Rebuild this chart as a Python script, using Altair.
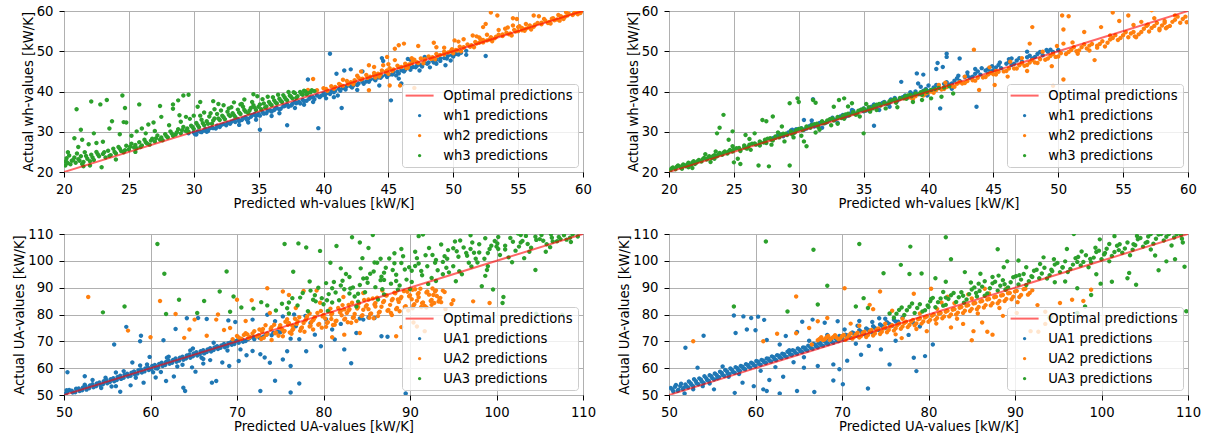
import altair as alt
import pandas as pd

# ---------------- data ----------------
WH_TICKS_X = [20, 25, 30, 35, 40, 45, 50, 55, 60]
WH_TICKS_Y = [20, 30, 40, 50, 60]
UA_TICKS = [50, 60, 70, 80, 90, 100, 110]
OPT_WH = [20, 60]
OPT_UA = [50, 110]
WH_LABELS = ["wh1 predictions", "wh2 predictions", "wh3 predictions"]
UA_LABELS = ["UA1 predictions", "UA2 predictions", "UA3 predictions"]

TL_WH1 = [(29.6,29.6),(30.0,29.8),(30.3,30.1),(30.6,29.9),(30.9,30.7),(31.2,30.8),(31.5,30.9),(31.8,31.5),(32.0,31.2),(32.3,31.9),(32.6,32.2),(32.9,32.5),(33.2,32.4),(33.4,33.1),(33.7,32.9),(34.0,33.6),(34.2,33.2),(34.5,34.1),(34.8,33.9),(35.0,34.4),(35.3,34.9),(35.6,34.6),(35.9,35.3),(36.2,35.4),(36.4,35.9),(36.7,35.7),(37.0,36.4),(37.3,36.2),(37.6,36.9),(37.9,37.1),(38.1,37.4),(38.4,37.9),(38.7,37.7),(39.0,38.5),(39.2,38.6),(39.5,39.0),(39.8,38.9),(40.0,39.5),(40.3,39.6),(40.6,40.0),(40.9,40.2),(41.2,40.6),(41.5,40.9),(41.8,41.3),(42.1,41.3),(42.4,41.9),(42.7,42.0),(43.0,42.4),(43.3,42.5),(43.6,43.0),(43.9,43.1),(44.2,43.5),(44.5,43.8),(44.8,44.1),(45.1,44.2),(45.4,44.8),(45.7,44.9),(46.0,45.3),(46.3,45.4),(46.6,46.0),(46.9,46.1),(47.2,46.4),(47.5,46.6),(47.8,47.1),(48.1,47.2),(48.4,47.7),(48.7,47.9),(49.0,48.2),(49.3,48.3),(49.6,48.9),(49.9,49.0),(50.2,49.3),(50.6,49.6),(51.0,50.1),
          (35.1,30.5),(37.2,31.6),(39.6,30.9),(41.4,35.9),(45.2,37.8),(40.5,49.4),(38.8,43.0),(41.0,44.4),(41.6,45.2),(42.1,45.5),(43.0,45.0),(44.5,48.3),(44.6,47.6),(44.3,41.5),(46.5,48.1),(46.7,47.9),(47.8,48.6),(48.7,46.9),(49.4,46.5),(52.5,48.8),(41.1,39.0),(42.3,41.5),(43.5,42.8),(44.0,44.0),(45.6,44.0),(46.2,45.1),(47.4,45.2),(48.2,46.0),(49.8,47.7),(51.0,49.1),(33.5,31.7),(34.2,32.3),(36.0,33.9),(36.6,34.6),(37.8,35.9),(38.5,36.7),(39.2,37.4),(40.2,38.3),(34.8,33.0),(31.0,30.0),(30.2,29.3),(45.8,43.2),(46.0,42.0),(40.8,38.6),(42.6,40.4),
          (30.1,29.4),(30.5,30.0),(30.8,30.3),(31.1,30.2),(31.4,31.0),(31.7,30.8),(32.1,31.6),(32.5,31.6),(32.8,32.0),(33.1,32.8),(33.5,32.6),(33.8,33.3),(34.1,33.0),(34.4,33.7),(34.7,34.4),(35.1,34.0),(35.4,34.5),(35.7,35.2),(36.0,35.0),(36.3,35.8),(36.6,35.5),(36.9,36.3),(37.2,36.8),(37.5,36.5),(37.8,37.4),(38.2,37.0),(38.5,37.6),(38.9,38.2),(39.3,38.1),(39.7,38.6),(40.1,39.0),(40.5,39.4),(40.8,39.8),(41.3,40.2),(41.7,40.5),(42.2,41.0),(42.6,41.6),(43.1,41.9),(43.5,42.4),(44.0,42.8),(44.4,43.4),(44.9,43.6),(45.3,44.2),(45.8,44.5),(46.2,45.0),(46.7,45.4),(47.1,46.0),(47.6,46.2),(48.0,46.9),(48.5,47.2),(49.0,47.6),(49.5,48.2),(50.0,48.7),(50.4,49.2)]
TL_WH2 = [(39.5,40.3),(40.0,40.8),(40.3,40.2),(40.6,41.3),(40.9,41.1),(41.2,41.9),(41.5,41.4),(41.8,42.6),(42.1,42.3),(42.4,42.8),(42.7,43.4),(43.0,43.2),(43.3,44.1),(43.6,43.7),(43.9,44.6),(44.2,44.4),(44.5,45.2),(44.8,44.9),(45.1,45.8),(45.4,45.5),(45.7,46.4),(46.0,46.1),(46.3,46.9),(46.6,46.7),(46.9,47.6),(47.2,47.3),(47.5,48.2),(47.8,47.9),(48.1,48.7),(48.4,48.5),(48.7,49.3),(49.0,49.1),(49.3,49.9),(49.6,49.7),(49.9,50.5),(50.2,50.3),(50.5,51.1),(50.8,50.9),(51.1,51.7),(51.4,51.5),(51.7,52.3),(52.0,52.1),(52.3,52.8),(52.6,52.7),(52.9,53.5),(53.2,53.2),(53.5,54.1),(53.8,53.8),(54.1,54.6),(54.4,54.4),(54.7,55.3),(55.0,55.0),(55.3,55.8),(55.6,55.6),(55.9,56.4),(56.2,56.1),(56.5,57.0),(56.8,56.7),(57.1,57.6),(57.4,57.3),(57.7,58.2),(58.0,57.9),(58.3,58.7),(58.6,58.5),(58.9,59.3),(59.2,59.0),(59.5,59.6),(59.8,59.5),(59.9,60.0),(44.0,43.5),(45.0,44.4),(46.5,45.9),(47.7,47.0),(50.0,49.5),(53.0,52.5),(56.0,55.4),(58.2,57.6),
          (39.2,43.1),(38.8,40.4),(45.8,51.5),(46.2,51.9),(47.3,51.3),(45.5,50.6),(48.5,52.1),(48.7,51.0),(44.9,48.6),(45.5,47.8),(43.5,46.5),(43.9,46.1),(44.6,46.5),(47.0,40.9),(45.9,41.5),(45.1,41.5),(43.5,40.3),(42.6,43.9),(42.9,45.0),(52.3,56.0),(52.5,56.8),(52.9,59.6),(53.4,58.9),(54.6,58.2),(54.9,58.0),(56.2,58.9),(56.6,58.7),(54.6,56.4),(55.1,56.2),(55.6,56.8),(50.1,52.7),(50.4,52.4),(50.8,53.0),(51.5,53.9),(51.8,53.7),(52.0,53.4),(52.6,54.1),(53.5,55.3),(54.0,55.6),(54.2,55.9),(57.6,58.1),(58.1,59.0),(58.7,59.7),(59.4,60.0),(41.5,42.9),(46.8,48.3),(49.3,50.9),(45.0,46.8),
          (40.2,40.6),(40.8,40.7),(41.3,41.6),(41.9,41.8),(42.4,42.5),(42.9,43.0),(43.4,43.4),(43.9,44.0),(44.4,44.3),(44.9,45.2),(45.3,45.1),(45.8,46.0),(46.3,46.2),(46.8,47.0),(47.3,47.1),(47.8,48.0),(48.3,48.1),(48.8,48.9),(49.3,49.2),(49.8,50.0),(50.3,50.2),(50.8,51.0),(51.3,51.1),(51.8,51.9),(52.3,52.2),(52.8,52.9),(53.3,53.6),(53.8,54.2),(54.3,54.2),(54.8,54.9),(55.3,55.2),(55.8,55.9),(56.3,56.6),(56.8,57.1),(57.3,57.0),(57.8,57.7),(58.3,58.3),(58.8,58.9),(59.3,59.4),(59.7,59.9),(59.6,59.2),(58.5,58.0),(57.5,56.9),(55.5,55.1),(54.5,53.9),(51.6,51.0),(50.6,50.0),(48.6,48.0),(46.4,45.8),(44.3,43.7),(42.3,41.8),(47.0,47.9),(52.1,53.0),(55.0,56.0),(57.0,58.0)]
TL_WH3 = [(20.1,21.6),(20.2,23.4),(20.3,22.2),(20.4,24.1),(20.5,21.9),(20.6,22.8),(20.8,23.6),(20.9,22.3),(21.0,24.6),(21.2,22.8),(21.3,23.9),(21.5,22.5),(21.6,24.9),(21.8,23.3),(22.0,22.7),(22.1,24.3),(22.3,23.0),(22.5,25.0),(22.7,23.9),(22.9,21.2),(23.0,24.5),(23.2,23.6),(23.4,25.3),(23.6,24.2),(23.8,25.8),(24.0,24.6),(24.2,26.2),(24.4,25.2),(24.6,24.9),(24.8,26.5),(25.0,25.6),(25.2,27.0),(25.4,26.1),(25.6,25.9),(25.8,27.4),(26.0,26.6),(26.2,28.0),(26.4,27.1),(26.6,26.8),(26.8,28.3),(27.0,27.6),(27.2,29.1),(27.4,28.0),(27.6,27.9),(27.8,29.4),(28.0,28.6),(28.2,30.1),(28.4,29.0),(28.6,29.3),(28.8,30.6),(29.0,29.6),(29.2,31.2),(29.4,30.2),(29.6,30.0),(29.8,31.5),(30.0,30.7),(30.2,32.2),(30.4,31.1),(30.6,33.0),(30.8,31.6),(31.0,32.6),(31.2,33.8),(31.4,32.0),(31.6,33.3),(31.8,34.4),(32.0,32.9),(32.2,34.0),(32.4,33.1),(32.6,35.0),(32.8,33.9),(33.0,34.6),(33.2,33.7),(33.4,35.5),(33.6,34.4),(33.8,36.2),(34.0,35.0),(34.2,34.6),(34.4,35.9),(34.6,36.6),(34.8,35.4),(35.0,36.2),(35.2,35.6),(35.4,37.0),(35.6,36.3),(35.8,37.4),(36.0,36.6),(36.2,37.8),(36.4,37.0),(36.6,38.2),(36.8,37.4),(37.0,38.6),(37.2,37.8),(37.4,39.0),(37.6,38.3),(37.8,39.6),(38.0,38.8),(38.2,39.9),(38.4,39.2),(38.6,40.0),(38.8,39.6),(39.0,39.8),(39.3,40.1),
          (20.97,35.6),(22.1,37.5),(22.8,36.8),(23.3,37.9),(24.5,39.0),(24.7,35.9),(25.8,36.8),(23.7,32.6),(21.3,30.5),(20.8,28.4),(21.4,28.0),(22.3,29.6),(23.0,27.5),(24.6,32.4),(24.8,32.3),(23.5,30.8),(24.3,29.4),(25.2,29.0),(25.6,30.1),(26.0,30.8),(26.5,31.8),(26.9,32.3),(27.4,36.4),(27.5,33.7),(28.4,36.8),(28.8,37.8),(29.2,39.0),(29.6,39.2),(28.4,35.7),(28.9,34.1),(29.4,33.7),(30.3,36.2),(30.5,37.4),(31.5,37.6),(31.9,36.9),(32.3,36.6),(33.1,37.3),(33.6,36.8),(33.9,38.0),(34.6,39.3),(34.9,38.8),(21.9,26.9),(22.5,27.2),(26.3,29.6),(27.0,30.2),(28.1,31.6),(29.0,32.5),(30.0,34.0),(30.8,34.8),(31.6,35.6),(32.7,35.8),(35.7,38.7),(36.5,39.2),(37.3,39.9),(20.3,24.9),(21.1,26.2),(22.0,21.6),(21.5,21.4),(24.0,23.1),(25.5,25.0),(20.0,22.6),
          (20.2,22.5),(20.7,23.0),(21.1,23.2),(21.4,22.0),(21.7,24.0),(22.2,23.6),(22.6,24.4),(23.1,24.9),(23.5,24.0),(23.9,25.0),(24.3,25.8),(24.7,25.4),(25.1,26.3),(25.5,26.7),(25.9,26.2),(26.3,27.4),(26.7,27.8),(27.1,28.4),(27.5,28.6),(27.9,28.9),(28.3,29.6),(28.7,29.9),(29.1,30.4),(29.5,30.8),(29.9,31.2),(30.3,31.6),(30.7,32.1),(31.1,32.0),(31.5,32.8),(31.9,33.3),(32.3,33.6),(32.7,34.2),(33.1,34.1),(33.5,34.8),(33.9,35.4),(34.3,35.3),(34.7,36.0),(35.1,36.8),(35.5,36.0),(35.9,36.9),(36.3,37.3),(36.7,37.7),(37.1,38.1),(37.5,38.7),(37.9,38.4),(38.3,39.4),(38.7,39.3),(39.1,40.3),(38.5,40.2),(37.7,39.8),(36.9,39.1),(36.1,38.6),(35.3,38.1),(34.5,37.4),(33.7,36.9),(32.9,36.1),(32.1,35.3),(31.3,34.6),(30.5,34.0),(29.7,33.2)]

TR_WH1 = [(28.0,28.4),(28.4,29.1),(28.8,28.9),(29.2,29.8),(29.6,29.7),(30.0,30.6),(30.4,30.5),(30.8,31.4),(31.2,31.3),(31.6,32.2),(32.0,32.1),(32.4,33.0),(32.8,32.9),(33.2,33.8),(33.6,33.7),(34.0,34.6),(34.4,34.5),(34.8,35.4),(35.2,35.3),(35.6,36.2),(36.0,36.1),(36.4,37.0),(36.8,36.9),(37.2,37.8),(37.6,37.7),(38.0,38.6),(38.4,38.5),(38.8,39.4),(39.2,39.3),(39.6,40.2),(40.0,40.1),(40.4,41.0),(40.8,40.9),(41.2,41.9),(41.6,41.7),(42.0,42.7),(42.4,42.6),(42.8,43.6),(43.2,43.4),(43.6,44.4),(44.0,44.2),(44.4,45.2),(44.8,45.0),(45.2,46.0),(45.6,45.8),(46.0,46.9),(46.4,46.6),(46.8,47.7),(47.2,47.4),(47.6,48.5),(48.0,48.2),(48.4,49.3),(48.8,49.0),(49.2,49.9),(49.6,49.8),(50.0,50.3),
          (37.9,42.4),(39.1,44.5),(39.6,44.2),(39.2,42.0),(40.7,47.1),(41.1,46.1),(41.4,49.4),(41.4,48.6),(42.4,48.2),(40.6,45.6),(40.9,35.8),(43.7,36.2),(35.8,31.5),(30.4,32.9),(31.0,32.8),(31.1,38.1),(29.8,30.6),(29.5,30.5),(34.1,35.4),(35.0,35.1),(35.9,36.6),(36.5,37.2),(37.1,38.0),(44.6,44.5),(45.5,47.2),(46.4,48.2),(47.6,49.9),(49.1,50.3),(43.0,44.7),(44.1,45.8),(42.3,43.9),(38.6,39.8),(37.0,36.2),(36.2,35.4),(39.9,39.0),(41.8,40.7),(33.0,32.2),(31.8,31.0),
          (28.6,29.3),(29.4,30.3),(30.2,30.9),(31.0,31.9),(31.8,32.4),(32.6,33.5),(33.4,34.2),(34.2,35.2),(35.0,35.8),(35.8,36.8),(36.6,37.4),(37.4,38.4),(38.2,39.0),(39.0,40.0),(39.8,40.6),(40.6,41.6),(41.4,42.3),(42.2,43.3),(43.0,43.9),(43.8,45.0),(44.6,45.6),(45.4,46.6),(46.2,47.3),(47.0,48.3),(47.8,48.9),(48.6,49.8),(49.4,50.4),(30.6,30.8),(32.2,32.4),(33.8,34.0),(35.4,35.6),(37.0,37.2),(38.6,38.8),(40.2,40.4),(41.8,42.0),(43.4,43.7),(45.0,45.3),(46.6,46.9),(48.2,48.6),(39.4,41.2),(40.0,41.5),(43.6,45.6),(44.9,46.3),(46.2,48.0)]
TR_WH2 = [(38.2,38.3),(38.6,38.5),(39.0,38.8),(39.4,39.3),(39.8,39.5),(40.2,40.0),(40.6,40.4),(41.0,40.5),(41.4,41.1),(41.8,41.3),(42.2,41.9),(42.6,42.0),(43.0,42.6),(43.4,42.8),(43.8,43.4),(44.2,43.5),(44.6,44.2),(45.0,44.3),(45.4,44.9),(45.8,45.0),(46.2,45.7),(46.6,45.7),(47.0,46.5),(47.4,46.4),(47.8,47.2),(48.2,47.2),(48.6,48.0),(49.0,47.9),(49.4,48.8),(49.8,48.6),(50.2,49.5),(50.6,49.3),(51.0,50.3),(51.4,50.0),(51.8,51.0),(52.2,50.7),(52.6,51.8),(53.0,51.4),(53.4,52.5),(53.8,52.1),(54.2,53.3),(54.6,52.8),(55.0,54.0),(55.4,53.5),(55.8,54.8),(56.2,54.2),(56.6,55.6),(57.0,54.9),(57.4,56.3),(57.8,55.6),(58.2,57.1),(58.6,56.3),(59.0,57.8),(59.4,57.1),(59.8,58.6),(59.9,57.2),(45.2,45.1),(48.0,47.8),(51.2,51.0),(54.0,53.9),(56.9,56.6),(59.0,58.9),(53.0,50.9),(55.9,53.7),(58.4,56.0),
          (43.5,50.4),(47.8,51.9),(48.0,56.0),(50.3,58.9),(50.8,58.7),(50.4,55.4),(50.4,51.9),(52.0,54.8),(53.3,56.0),(54.2,59.6),(54.7,57.5),(55.4,58.9),(55.8,56.5),(57.2,60.2),(57.8,55.2),(58.2,57.5),(52.8,47.8),(52.4,50.2),(51.5,49.4),(50.4,43.0),(49.6,41.4),(43.9,40.4),(45.1,41.6),(42.8,43.7),(41.3,42.2),(40.8,41.6),(44.7,46.0),(46.3,47.4),(47.2,48.3),(48.8,49.9),(49.9,51.3),(51.1,52.2),(56.4,57.3),(57.4,58.2),(46.1,43.7),(47.6,45.1),(49.5,46.3),
          (38.8,38.1),(39.6,39.0),(40.4,39.7),(41.2,40.6),(42.0,41.2),(42.8,42.1),(43.6,42.7),(44.4,43.6),(45.2,44.2),(46.0,45.1),(46.8,45.7),(47.6,46.6),(48.4,47.1),(49.2,48.2),(50.0,48.7),(50.8,49.8),(51.6,50.2),(52.4,51.4),(53.2,51.8),(54.0,52.9),(54.8,53.3),(55.6,54.4),(56.4,54.8),(57.2,55.8),(58.0,56.4),(58.8,57.3),(59.6,58.0),(40.0,39.8),(42.4,42.3),(44.8,44.6),(47.2,47.0),(49.6,49.3),(52.0,51.7),(54.4,54.0),(56.8,56.3),(59.2,58.6),(53.6,51.2),(56.0,53.5),(58.3,55.7),(57.6,57.0),(55.2,54.7)]
TR_WH3 = [(20.1,20.4),(20.3,21.1),(20.5,20.7),(20.7,21.6),(20.9,21.2),(21.1,21.9),(21.3,21.4),(21.5,22.3),(21.7,21.8),(21.9,22.7),(22.1,22.3),(22.3,23.0),(22.5,22.6),(22.7,23.5),(22.9,23.1),(23.1,23.9),(23.3,23.5),(23.5,24.2),(23.7,23.9),(23.9,24.7),(24.1,24.3),(24.3,25.1),(24.5,24.6),(24.7,25.5),(24.9,25.1),(25.2,25.9),(25.5,25.5),(25.8,26.6),(26.1,26.2),(26.4,27.0),(26.7,26.8),(27.0,27.6),(27.3,27.3),(27.6,28.3),(27.9,28.0),(28.2,28.8),(28.5,28.6),(28.8,29.5),(29.1,29.2),(29.4,30.1),(29.7,29.8),(30.0,30.7),(30.3,30.4),(30.6,31.3),(30.9,31.0),(31.2,31.9),(31.5,31.6),(31.8,32.6),(32.1,32.3),(32.4,33.1),(32.7,32.8),(33.0,33.7),(33.3,33.4),(33.6,34.3),(33.9,34.1),(34.2,34.9),(34.5,34.6),(34.8,35.5),(35.1,35.3),(35.4,36.1),(35.7,35.8),(36.0,36.7),(36.3,36.5),(36.6,37.2),(36.9,37.0),(37.2,37.8),(37.5,37.6),(37.8,38.4),(38.1,38.3),(38.4,39.0),(38.7,38.8),(39.0,39.5),(39.3,39.4),(39.6,40.0),(39.9,39.9),(40.2,40.4),(40.5,40.6),(40.8,40.9),(41.2,41.0),(41.6,41.3),(21.0,20.8),(22.0,22.0),(26.0,25.8),(28.0,27.8),
          (24.2,34.2),(23.9,31.0),(23.7,29.6),(24.9,30.1),(25.0,22.4),(25.5,22.0),(26.9,21.6),(27.7,21.4),(29.3,21.6),(26.2,28.2),(27.2,32.9),(27.5,32.6),(28.0,33.8),(29.3,37.1),(29.9,38.3),(30.0,37.4),(30.4,27.6),(30.6,26.4),(31.1,37.9),(31.3,37.2),(31.6,30.5),(31.9,32.1),(32.7,36.2),(33.1,37.9),(33.5,38.3),(33.8,36.3),(34.1,37.1),(35.0,29.6),(34.4,34.2),(35.5,35.0),(36.7,35.8),(37.6,36.1),(38.3,38.2),(38.8,37.4),(39.5,37.9),(40.2,38.3),(41.0,38.7),(41.9,39.5),(28.4,29.8),(28.7,31.3),(28.9,27.6),(27.9,26.8),(27.0,26.6),(26.3,25.5),(25.9,29.2),(26.6,29.6),(24.6,28.0),(24.9,26.4),(23.6,25.1),(22.8,24.4),(25.3,23.3),(29.6,28.6),(30.2,29.0),(31.3,29.8),(32.5,31.6),(33.0,32.0),(34.7,33.8),(36.0,35.4),(35.2,36.9),(23.2,22.5),(21.8,21.0),
          (20.2,20.9),(20.6,21.3),(21.0,21.5),(21.4,21.9),(21.8,22.4),(22.2,22.7),(22.6,23.2),(23.0,23.5),(23.4,24.0),(23.8,24.3),(24.2,24.8),(24.6,25.1),(25.0,25.6),(25.4,26.0),(25.8,26.1),(26.2,26.8),(26.6,27.1),(27.0,27.3),(27.4,28.0),(27.8,28.4),(28.2,28.5),(28.6,29.2),(29.0,29.5),(29.4,29.7),(29.8,30.4),(30.2,30.8),(30.6,31.0),(31.0,31.6),(31.4,32.0),(31.8,32.2),(32.2,32.8),(32.6,33.3),(33.0,33.4),(33.4,34.0),(33.8,34.5),(34.2,34.6),(34.6,35.2),(35.0,35.7),(35.4,35.8),(35.8,36.4),(36.2,36.9),(36.6,37.0),(37.0,37.6),(37.4,38.1),(37.8,38.2),(38.2,38.8),(38.6,39.2),(39.0,39.3),(39.4,39.8),(39.8,40.3),(21.5,21.2),(23.5,23.3),(25.5,25.2),(27.5,27.2),(29.5,29.3),(31.5,31.2),(33.5,33.2),(35.5,35.2),(37.5,37.2),(39.5,39.2)]

BL_UA1 = [(50.2,50.6),(50.6,51.9),(51.0,50.9),(51.4,52.3),(51.8,51.5),(52.2,52.8),(52.6,52.0),(53.0,53.6),(53.4,52.9),(53.8,54.3),(54.2,53.6),(54.6,55.1),(55.0,54.4),(55.4,55.9),(55.8,55.1),(56.2,56.7),(56.6,56.0),(57.0,57.6),(57.4,56.9),(57.8,58.3),(58.2,57.6),(58.6,59.2),(59.0,58.4),(59.4,59.9),(59.8,59.3),(60.2,60.8),(60.6,60.0),(61.0,61.6),(61.4,60.8),(61.8,62.3),(62.2,61.6),(62.6,63.1),(63.0,62.4),(63.4,63.9),(63.8,63.1),(64.2,64.7),(64.6,63.9),(65.0,65.5),(65.4,64.7),(65.8,66.3),(66.2,65.5),(66.6,67.0),(67.0,66.2),(67.4,67.7),(67.8,67.1),(68.2,68.5),(68.6,67.8),(69.0,69.3),(69.4,68.7),(69.8,70.0),(70.2,69.5),(70.6,70.7),(71.0,70.1),(71.5,71.3),(72.0,70.8),(72.5,72.2),(73.0,71.6),(73.5,72.8),(74.0,72.3),(75.0,73.4),(52.4,53.8),(54.8,56.4),(56.9,58.9),(59.6,61.4),(62.1,64.3),(64.9,67.3),(67.3,69.5),(55.5,53.2),(58.3,56.4),(61.2,58.6),(63.7,61.3),(66.1,63.4),(68.9,66.6),
          (57.2,75.4),(55.8,68.8),(58.9,72.1),(58.8,70.0),(61.5,70.4),(62.9,74.6),(64.2,78.6),(65.5,78.7),(66.5,78.3),(69.0,77.8),(69.8,77.2),(71.8,78.1),(73.5,79.9),(74.4,77.5),(75.3,79.3),(76.6,80.0),(84.2,78.5),(85.2,78.9),(87.4,71.7),(89.5,50.6),(76.2,50.9),(77.2,54.3),(74.4,55.3),(72.7,51.5),(67.6,55.2),(67.1,54.6),(64.0,51.5),(63.8,52.7),(62.7,56.9),(61.8,55.2),(60.8,59.9),(59.2,54.6),(57.7,53.6),(56.5,51.2),(56.0,53.3),(54.3,52.6),(53.3,55.6),(50.4,58.5),(50.3,51.8),(70.4,67.0),(71.8,66.4),(72.7,65.2),(73.2,64.0),(73.8,62.0),(75.3,63.2),(75.8,66.3),(76.2,60.8),(77.2,70.8),(78.0,66.3),(79.7,68.2),(81.0,74.4),(83.2,61.8),(82.4,67.0),(81.3,70.7),(84.6,78.1),(83.8,73.1),(85.9,78.7),(86.7,71.9),(69.1,60.8),(68.3,62.1),(71.1,64.8),(70.2,62.7),(66.9,63.0),(66.1,61.7),(64.8,60.3),(65.2,58.7),(76.8,75.6),(78.5,76.8),(80.3,78.2),(82.0,76.5),(79.0,72.5),(77.9,79.5),(74.7,73.6),(76.2,71.0),(59.9,64.2),(57.9,62.1),(60.6,56.5),(52.4,57.0),
          (50.4,51.1),(50.9,51.6),(51.3,51.0),(51.7,52.4),(52.1,51.8),(52.5,53.2),(52.9,52.5),(53.3,54.0),(53.7,53.3),(54.1,54.7),(54.5,54.0),(54.9,55.6),(55.3,54.8),(55.7,56.3),(56.1,55.6),(56.5,57.2),(56.9,56.4),(57.3,57.9),(57.7,57.2),(58.1,58.8),(58.5,58.0),(58.9,59.5),(59.3,58.8),(59.7,60.3),(60.1,59.6),(60.5,61.2),(60.9,60.4),(61.3,62.0),(61.7,61.2),(62.1,62.8),(62.5,62.0),(62.9,63.6),(63.3,62.8),(63.7,64.3),(64.1,63.6),(64.5,65.1),(64.9,64.4),(65.3,65.9),(65.7,65.2),(66.1,66.7),(66.5,66.0),(66.9,67.4),(67.3,66.8),(67.7,68.2),(68.1,67.6),(68.5,69.0),(68.9,68.3),(69.3,69.7),(69.7,69.0),(70.1,70.5),(70.7,69.8),(71.3,70.9),(71.9,71.6),(72.6,71.3),(73.3,72.4),(74.2,73.1),(56.0,58.4),(58.8,61.0),(61.9,63.9),(64.6,66.6),(60.3,58.5),(63.1,60.6),(65.9,63.9)]
BL_UA2 = [(69.5,70.8),(70.0,72.0),(70.5,71.0),(71.0,73.0),(71.5,71.6),(72.0,73.8),(72.5,72.2),(73.0,74.6),(73.5,72.8),(74.0,75.3),(74.5,73.3),(75.0,76.0),(75.5,73.9),(76.0,76.8),(76.5,74.6),(77.0,77.5),(77.5,75.2),(78.0,78.3),(78.5,75.8),(79.0,79.0),(79.5,76.5),(80.0,79.8),(80.5,77.1),(81.0,80.5),(81.5,77.7),(82.0,81.3),(82.5,78.4),(83.0,82.0),(83.5,79.0),(84.0,82.8),(84.5,79.7),(85.0,83.5),(85.5,80.4),(86.0,84.3),(86.5,81.0),(87.0,85.0),(87.5,81.7),(88.0,85.8),(88.5,82.4),(89.0,86.5),(89.5,83.1),(90.0,87.2),(90.5,83.8),(91.0,88.0),(91.5,84.5),(92.0,88.6),(92.5,85.4),(93.0,89.0),(93.5,86.2),(94.0,88.4),(72.8,70.9),(75.2,74.5),(77.7,76.8),(80.2,78.5),(82.7,80.6),(85.2,82.0),(87.7,83.6),(90.2,85.7),(92.7,87.3),(74.0,70.5),(76.3,72.8),(78.8,74.4),(81.3,76.2),(83.8,77.6),(86.3,79.4),(88.8,81.2),(91.3,82.8),(73.3,76.0),(75.8,78.2),(78.4,80.4),(80.8,82.2),(83.3,84.4),(85.7,86.0),(88.2,88.1),(90.6,89.4),
          (52.8,86.5),(61.1,85.0),(57.4,74.0),(60.0,71.5),(63.9,71.3),(64.5,74.4),(65.1,78.1),(66.5,72.1),(67.6,78.1),(67.8,80.0),(62.9,80.2),(70.0,85.5),(71.7,85.3),(73.5,89.8),(75.3,88.6),(76.0,87.3),(77.7,88.8),(79.2,88.9),(94.8,83.9),(95.0,85.3),(97.3,84.9),(99.2,84.3),(94.1,82.0),(91.9,82.6),(90.4,77.0),(91.7,73.8),(90.8,75.5),(89.0,75.3),(88.4,71.9),(84.2,73.1),(81.0,71.5),(82.4,72.5),(69.2,75.0),(68.5,74.2),(71.0,77.6),(73.8,80.6),(76.8,82.4),(79.6,84.4),(82.3,86.5),(84.6,88.0),(86.8,88.9),(92.5,83.6),(93.6,84.6),
          (70.2,71.4),(70.8,72.4),(71.3,71.2),(71.8,72.9),(72.3,71.8),(72.9,73.6),(73.4,72.4),(73.9,74.6),(74.4,73.0),(74.9,75.1),(75.4,73.6),(75.9,76.2),(76.4,74.2),(76.9,76.5),(77.4,74.8),(77.9,77.8),(78.4,75.5),(78.9,78.4),(79.4,76.2),(79.9,79.3),(80.4,76.8),(80.9,79.9),(81.4,77.5),(81.9,80.8),(82.4,78.1),(82.9,81.5),(83.4,78.8),(83.9,82.2),(84.4,79.4),(84.9,83.0),(85.4,80.1),(85.9,83.7),(86.4,80.7),(86.9,84.6),(87.4,81.4),(87.9,85.3),(88.4,82.0),(88.9,86.0),(89.4,82.8),(89.9,86.8),(90.4,83.4),(90.9,87.6),(91.4,84.2),(91.9,88.2),(92.4,85.0),(92.9,88.6),(93.4,85.8),(77.2,79.0),(79.7,81.3),(82.2,83.5),(84.7,85.4),(87.2,87.2),(89.7,88.5),(75.3,71.9),(77.8,73.6),(80.3,75.4),(82.8,77.1),(85.3,78.8),(87.8,80.6),(90.3,82.3),(92.8,84.3),
          (71.2,72.6),(72.6,74.4),(73.1,71.3),(74.3,76.2),(74.8,72.1),(75.6,77.3),(76.1,73.3),(76.7,78.4),(77.3,73.9),(78.1,79.3),(78.6,77.2),(79.3,80.6),(79.8,75.1),(80.6,81.3),(81.1,76.1),(81.7,82.4),(82.1,79.7),(82.9,83.6),(83.2,76.9),(84.1,84.2),(84.6,81.8),(85.2,85.6),(85.8,78.6),(86.2,86.3),(86.7,82.9),(87.3,87.1),(87.9,79.8),(88.3,87.9),(88.7,84.7),(89.3,88.7),(89.8,81.5),(90.3,89.2),(90.8,85.1),(91.2,89.6),(91.7,83.2),(92.2,87.4),(92.6,89.7),(93.1,86.9),(93.8,88.9),(93.3,84.8),(80.9,78.3),(83.6,80.2),(86.0,83.0),(88.6,85.6),(91.0,86.4),(76.4,75.8),(78.8,77.9),(82.4,81.9)]
BL_UA3 = [(74.5,81.5),(75.2,84.0),(75.8,82.3),(76.4,86.1),(77.0,83.4),(77.6,88.0),(78.2,81.2),(78.8,85.5),(79.4,90.0),(80.0,83.8),(80.6,87.6),(81.2,92.1),(81.8,85.3),(82.4,89.4),(83.0,94.0),(83.6,86.7),(84.2,91.0),(84.8,88.3),(85.4,95.2),(86.0,90.2),(86.6,92.8),(87.2,97.4),(87.8,91.5),(88.4,94.8),(89.0,99.2),(89.6,93.0),(90.2,96.3),(90.8,101.0),(91.4,94.6),(92.0,98.0),(92.6,102.2),(93.2,96.5),(93.8,99.6),(94.4,104.0),(95.0,98.0),(95.6,101.5),(96.2,105.0),(96.8,99.3),(97.4,103.0),(98.0,106.2),(98.6,100.8),(99.2,104.4),(99.8,107.4),(100.4,102.2),(101.0,105.6),(101.6,108.5),(102.2,103.8),(102.8,106.8),(103.4,109.3),(104.0,104.9),(104.6,107.8),(105.2,109.6),(105.8,106.2),(106.4,108.6),(107.0,107.3),(107.8,109.5),(108.5,108.6),(79.0,87.2),(82.0,90.8),(85.0,93.5),(88.0,96.6),(91.0,99.0),(94.0,101.7),(97.0,104.4),(100.0,105.3),(103.0,107.4),(76.0,80.4),(80.5,81.3),(84.0,84.8),(87.0,87.5),(90.0,89.5),(93.0,92.5),(96.0,95.0),(99.0,98.0),(86.3,85.6),(83.0,87.8),(95.3,92.4),
          (54.5,80.8),(57.0,83.0),(60.8,106.3),(61.6,95.2),(61.8,80.2),(63.3,85.5),(65.4,80.6),(66.2,85.0),(68.0,88.6),(68.8,96.0),(69.6,86.7),(69.2,81.0),(70.5,82.6),(71.9,82.2),(72.8,84.6),(73.5,83.4),(75.5,106.3),(77.1,106.5),(78.0,105.0),(79.6,103.7),(81.5,105.5),(83.3,108.8),(84.2,106.8),(85.2,104.8),(85.7,109.6),(86.6,100.8),(88.2,102.8),(89.0,104.4),(91.0,109.2),(91.5,109.8),(95.2,107.2),(97.0,109.5),(100.1,106.5),(100.8,86.5),(100.7,84.3),(104.5,96.6),(98.7,94.4),(98.3,90.5),(99.6,89.3),(107.6,79.9),(104.6,80.3),(106.5,107.2),(108.8,109.8),(76.5,95.9),(80.8,99.3),(82.0,97.2),(84.5,101.0),(86.2,99.3),(87.0,95.6),(88.8,90.8),(92.5,93.6),(94.5,95.7),(101.8,99.5),(103.2,101.0),(97.6,100.8),(83.8,83.0),(81.0,84.5),(102.5,110.2),(105.7,103.4),
          (76.0,84.5),(77.3,86.3),(78.5,88.9),(79.8,86.1),(81.0,89.8),(82.2,92.6),(83.4,90.1),(84.6,93.4),(85.8,96.0),(87.0,92.9),(88.2,99.1),(89.4,96.8),(90.6,98.1),(91.8,102.1),(93.0,100.3),(94.2,97.4),(95.4,103.6),(96.6,101.9),(97.8,99.4),(99.0,102.9),(100.2,104.4),(101.4,101.3),(102.6,105.3),(103.8,103.4),(105.0,108.1),(106.2,105.1),(107.4,108.1),(108.6,107.0),(109.4,109.1),(88.6,89.2),(92.1,91.4),(95.7,96.1),(98.9,96.6),(86.8,89.4),(84.0,87.7),(80.4,85.3),
          (78.4,92.3),(79.1,84.9),(80.3,91.7),(81.4,88.2),(82.6,95.1),(83.1,89.7),(84.3,97.2),(85.1,91.8),(85.9,99.4),(86.7,94.1),(87.6,100.9),(88.4,92.5),(89.2,101.7),(89.9,97.6),(90.6,103.4),(91.3,96.2),(92.2,104.8),(92.9,99.3),(93.6,106.1),(94.3,100.8),(95.0,104.7),(95.8,107.6),(96.5,102.9),(97.2,106.8),(98.0,103.1),(98.7,108.4),(99.4,105.6),(100.2,108.9),(101.0,104.2),(101.9,107.1),(102.8,109.6),(103.6,106.3),(104.5,109.0),(105.4,107.5),(106.3,109.9),(107.2,108.9),(108.1,107.9),(90.2,92.1),(93.8,95.0),(97.1,97.9)]

BR_UA1 = [(50.2,52.6),(50.5,51.3),(50.8,53.7),(51.1,52.0),(51.4,54.2),(51.7,52.6),(52.0,53.3),(52.3,55.0),(52.6,53.8),(52.9,55.9),(53.2,54.4),(53.5,56.2),(53.8,55.0),(54.1,57.0),(54.4,55.6),(54.7,57.4),(55.0,56.3),(55.3,58.0),(55.6,56.9),(55.9,58.7),(56.2,57.5),(56.5,59.3),(56.8,58.0),(57.1,59.9),(57.4,58.6),(57.7,60.4),(58.0,59.3),(58.3,60.8),(58.6,59.9),(58.9,61.5),(59.2,60.6),(59.5,62.0),(59.8,61.1),(60.1,62.7),(60.4,61.6),(60.7,63.1),(61.0,62.2),(61.3,63.6),(61.6,62.8),(61.9,64.4),(62.2,63.3),(62.5,64.8),(62.8,64.0),(63.1,65.4),(63.4,64.5),(63.7,66.1),(64.0,65.1),(64.3,66.7),(64.6,65.7),(64.9,67.3),(65.2,66.3),(65.5,67.7),(65.8,66.9),(66.1,68.4),(66.4,67.5),(66.7,69.0),(67.0,68.1),(67.3,69.4),(67.6,68.6),(67.9,70.2),(68.2,69.2),(68.5,70.8),(68.8,69.8),(69.1,71.4),(69.4,70.3),(69.7,72.0),(70.0,71.0),(70.4,72.5),(70.8,71.6),(71.2,73.3),(71.6,72.3),(72.0,74.1),(72.4,73.0),(72.8,74.8),(73.2,73.8),(73.6,75.6),(74.0,74.5),(74.4,76.3),(74.8,75.3),(75.2,77.1),(75.6,76.2),(76.0,78.0),(76.5,77.3),(77.0,78.8),(75.0,78.4),(73.5,77.2),(71.8,75.8),(70.3,74.4),(68.3,72.4),(66.2,70.2),
          (57.5,79.6),(58.6,79.3),(59.5,78.7),(60.3,79.2),(61.0,78.0),(57.7,73.1),(59.0,74.4),(60.0,74.1),(61.3,70.5),(54.0,72.1),(51.9,67.6),(62.8,68.8),(65.4,77.3),(66.6,78.1),(68.0,76.9),(69.5,77.5),(63.5,72.0),(64.8,73.5),(63.9,66.7),(65.6,64.1),(64.4,62.2),(65.6,60.2),(67.2,60.8),(69.0,61.4),(69.7,59.6),(70.1,54.0),(69.0,55.4),(66.8,51.1),(64.8,51.5),(62.8,50.6),(61.3,51.5),(60.9,52.1),(59.8,53.3),(58.5,54.6),(57.6,50.8),(56.9,56.8),(55.6,56.2),(55.2,52.1),(53.9,53.3),(53.3,60.2),(51.8,50.6),(73.0,52.4),(78.6,58.9),(78.3,63.9),(79.6,64.5),(80.5,68.8),(75.5,61.4),(74.5,67.0),(73.1,68.3),(72.2,65.0),(71.6,69.1),(70.6,62.8),(76.2,70.2),(77.7,72.4),(79.0,75.5),(78.2,77.0),(74.3,78.6),(72.0,77.6),(56.2,60.6),(58.1,57.8),(60.6,59.0),(62.3,60.4),(54.7,54.3),(52.8,52.1),(63.2,56.8),(61.6,55.6),
          (50.4,52.0),(50.7,53.1),(51.0,51.6),(51.3,53.4),(51.6,52.2),(51.9,53.9),(52.2,52.8),(52.5,54.4),(52.8,53.3),(53.1,55.1),(53.4,54.0),(53.7,55.7),(54.0,54.5),(54.3,56.3),(54.6,55.3),(54.9,57.0),(55.2,55.8),(55.5,57.5),(55.8,56.6),(56.1,58.2),(56.4,57.1),(56.7,58.8),(57.0,57.8),(57.3,59.3),(57.6,58.3),(57.9,60.0),(58.2,59.0),(58.5,60.5),(58.8,59.6),(59.1,61.2),(59.4,60.2),(59.7,61.7),(60.0,60.8),(60.3,62.4),(60.6,61.3),(60.9,62.8),(61.2,61.9),(61.5,63.5),(61.8,62.5),(62.1,64.1),(62.4,63.0),(62.7,64.6),(63.0,63.7),(63.3,65.2),(63.6,64.2),(63.9,65.8),(64.2,64.9),(64.5,66.4),(64.8,65.4),(65.1,66.9),(65.4,66.0),(65.7,67.6),(66.0,66.6),(66.3,68.1),(66.6,67.2),(66.9,68.7),(67.2,67.8),(67.5,69.3),(67.8,68.4),(68.1,69.9),(68.4,69.0),(68.7,70.4),(69.0,69.5),(69.3,71.1),(69.6,70.1),(69.9,71.7),(70.2,70.7),(70.6,72.2),(71.0,71.3),(71.4,72.9),(71.8,72.0),(72.2,73.6),(72.6,72.6),(73.0,74.3),(73.4,73.4),(73.8,75.0),(74.2,74.2),(74.6,75.8),(75.0,75.0),(75.4,76.6),(75.8,75.8),(76.2,77.4)]
BR_UA2 = [(67.2,70.4),(67.6,71.5),(68.0,70.8),(68.4,72.0),(68.8,71.2),(69.2,72.3),(69.6,70.8),(70.0,71.9),(70.4,70.6),(70.8,72.2),(71.2,71.0),(71.6,72.6),(72.0,71.4),(72.4,73.1),(72.8,71.6),(73.2,73.7),(73.6,72.2),(74.0,74.3),(74.4,72.7),(74.8,74.8),(75.2,73.4),(75.6,75.5),(76.0,74.0),(76.4,76.1),(76.8,74.7),(77.2,76.8),(77.6,75.3),(78.0,77.4),(78.4,76.0),(78.8,78.2),(79.2,76.6),(79.6,78.9),(80.0,77.3),(80.4,79.5),(80.8,78.0),(81.2,80.3),(81.6,78.6),(82.0,81.0),(82.4,79.3),(82.8,81.8),(83.2,80.0),(83.6,82.5),(84.0,80.6),(84.4,83.3),(84.8,81.3),(85.2,84.1),(85.6,82.0),(86.0,84.8),(86.4,82.6),(86.8,85.6),(87.2,83.4),(87.6,86.4),(88.0,84.2),(88.4,87.1),(88.8,85.0),(89.2,87.9),(89.6,85.7),(90.0,88.6),(90.5,86.5),(91.0,89.4),(91.5,87.4),(92.0,89.0),(75.0,76.6),(77.0,78.4),(79.0,80.4),(81.0,82.1),(83.0,84.2),(85.0,86.0),(87.0,87.8),(89.0,89.6),(76.2,72.6),(78.6,74.6),(80.9,76.6),(83.3,78.4),(85.7,80.4),(88.2,82.4),(90.3,84.6),
          (52.8,70.0),(64.7,86.7),(70.3,89.8),(74.4,88.6),(73.2,83.6),(73.6,82.0),(75.8,81.4),(68.3,78.7),(67.2,77.5),(66.2,75.0),(66.5,68.8),(72.0,75.8),(71.0,76.6),(78.3,87.7),(80.3,89.6),(82.2,86.6),(85.0,70.4),(85.2,73.8),(87.4,72.5),(86.8,73.6),(91.8,73.8),(92.7,73.6),(93.5,76.5),(94.2,79.0),(95.2,84.3),(96.6,85.5),(97.9,85.0),(98.8,89.2),(93.5,81.0),(92.6,83.5),(90.2,80.6),(88.6,79.5),(86.2,77.0),(84.0,76.5),(82.6,75.2),(79.8,73.8),(76.9,71.2),(81.5,84.5),(84.6,87.5),(86.5,89.6),(60.9,70.0),(62.5,72.8),(64.7,73.0),
          (67.4,70.9),(67.8,70.5),(68.2,71.4),(68.6,70.6),(69.0,71.6),(69.4,71.3),(69.8,71.1),(70.2,72.4),(70.6,71.3),(71.0,72.9),(71.4,71.7),(71.8,73.2),(72.2,72.0),(72.6,73.6),(73.0,72.4),(73.4,74.2),(73.8,72.9),(74.2,74.8),(74.6,73.6),(75.0,75.3),(75.4,74.2),(75.8,76.0),(76.2,74.9),(76.6,76.6),(77.0,75.5),(77.4,77.3),(77.8,76.1),(78.2,78.0),(78.6,76.7),(79.0,78.5),(79.4,77.4),(79.8,79.3),(80.2,78.0),(80.6,80.0),(81.0,78.7),(81.4,80.6),(81.8,79.3),(82.2,81.4),(82.6,80.0),(83.0,82.0),(83.4,80.7),(83.8,82.8),(84.2,81.4),(84.6,83.5),(85.0,82.1),(85.4,84.3),(85.8,82.8),(86.2,85.0),(86.6,83.5),(87.0,85.8),(87.4,84.2),(87.8,86.6),(88.2,85.0),(88.6,87.3),(89.0,85.8),(89.4,88.0),(89.8,86.6),(90.2,88.8),(90.7,87.3),(91.2,89.6),(91.7,88.0)]
BR_UA3 = [(75.5,80.4),(76.0,78.8),(76.6,81.7),(77.2,79.8),(77.8,82.9),(78.4,80.6),(79.0,83.8),(79.6,81.6),(80.2,84.9),(80.8,82.7),(81.4,86.0),(82.0,83.6),(82.6,87.2),(83.2,84.7),(83.8,88.3),(84.4,85.6),(85.0,89.3),(85.6,86.7),(86.2,90.4),(86.8,87.8),(87.4,91.6),(88.0,88.9),(88.6,92.8),(89.2,90.1),(89.8,93.9),(90.4,91.2),(91.0,95.1),(91.6,92.4),(92.2,96.3),(92.8,93.5),(93.4,97.4),(94.0,94.6),(94.6,98.6),(95.2,95.8),(95.8,99.8),(96.4,97.0),(97.0,101.0),(97.6,98.3),(98.2,102.1),(98.8,99.4),(99.4,103.3),(100.0,100.6),(100.6,104.5),(101.2,101.8),(101.8,105.6),(102.4,103.0),(103.0,106.8),(103.6,104.1),(104.2,108.0),(104.8,105.3),(105.4,109.1),(106.0,106.4),(106.6,109.8),(107.2,107.6),(107.8,110.0),(108.4,108.7),(109.2,109.6),(82.0,86.3),(85.5,88.0),(88.8,91.3),(92.0,94.0),(95.5,97.5),(98.7,100.7),(102.0,104.0),(105.3,107.0),(80.0,82.8),(84.0,87.0),(90.5,94.6),(94.2,96.7),(97.2,99.6),(100.4,102.9),(103.7,106.2),
          (57.5,83.0),(61.2,107.2),(63.7,81.1),(66.7,104.1),(67.2,83.7),(68.3,90.7),(72.0,106.3),(72.5,86.1),(71.6,83.0),(73.0,82.4),(74.8,95.4),(76.8,98.5),(77.9,105.3),(82.0,108.8),(82.6,100.6),(88.0,104.3),(89.1,99.8),(79.2,95.3),(77.8,95.1),(80.8,93.5),(82.0,92.2),(84.2,95.8),(86.0,95.2),(85.8,91.5),(87.4,94.0),(88.7,97.6),(98.1,83.0),(97.2,80.6),(94.0,78.8),(95.8,92.3),(97.2,89.8),(98.8,87.3),(99.9,91.5),(99.4,95.0),(101.2,92.2),(103.0,93.5),(104.0,91.1),(103.2,95.5),(106.2,102.0),(107.5,99.8),(108.5,100.6),(109.4,106.8),(109.6,97.8),(109.8,81.2),(106.6,96.5),(105.7,110.0),(90.4,100.1),(93.3,101.3),(96.0,104.4),(99.8,108.0),(101.5,109.2),(96.8,110.0),(94.6,92.0),
          (76.3,80.3),(77.5,81.6),(78.7,82.4),(79.9,83.4),(81.1,84.6),(82.3,85.8),(83.5,86.4),(84.7,87.6),(85.9,88.8),(87.1,89.8),(88.3,90.7),(89.5,92.0),(90.7,93.0),(91.9,94.3),(93.1,95.3),(94.3,96.1),(95.5,97.6),(96.7,98.6),(97.9,99.6),(99.1,101.2),(100.3,102.4),(101.5,103.3),(102.7,104.6),(103.9,105.8),(105.1,106.7),(106.3,108.2),(107.5,109.0),(108.7,109.9),(81.7,88.4),(84.9,91.9),(88.1,94.5),(91.3,97.6),(94.5,100.6),(97.7,103.5),(100.9,106.3),(104.1,109.3),(80.3,85.8),(86.5,92.4),(92.9,98.8),(99.3,104.9),
          (76.9,82.6),(78.1,84.1),(79.3,81.1),(80.5,86.2),(81.7,83.3),(82.9,88.0),(84.1,84.4),(85.3,90.1),(86.5,87.0),(87.7,92.2),(88.9,89.2),(90.1,94.3),(91.3,91.0),(92.5,96.7),(93.7,93.4),(94.9,99.2),(96.1,95.8),(97.3,101.4),(98.5,97.6),(99.7,103.8),(100.9,99.8),(102.1,106.2),(103.3,102.1),(104.5,108.5),(105.7,104.2),(106.9,110.0),(108.1,105.7),(109.3,108.2)]

# ---------------- styling ----------------
FONT = "DejaVu Sans"
FS = 13.2
OPT_LABEL = "Optimal predictions"
COLORS = ["#ff6666", "#1f77b4", "#ff7f0e", "#2ca02c"]
LINE_PATH = "M-2.8,-0.2H2.8V0.2H-2.8Z"
DOT_PATH = "M0.33,0A0.33,0.33 0 1,1 -0.33,0A0.33,0.33 0 1,1 0.33,0Z"
PW, PH = 519, 161


def legend():
    return alt.Legend(title=None, orient="bottom-right", offset=5, padding=5,
                      fillColor="rgba(255,255,255,0.8)", strokeColor="#cccccc",
                      cornerRadius=3, labelFont=FONT, labelFontSize=FS, labelColor="black",
                      symbolSize=100, symbolStrokeWidth=0, symbolOffset=6, labelOffset=17,
                      rowPadding=6, labelLimit=300)


def panel(series, labels, dom, tx, ty, xtitle, ytitle, opt):
    rows = []
    for lab, pts in zip(labels, series):
        for x, y in pts:
            rows.append({"x": x, "y": y, "s": lab})
    df = pd.DataFrame(rows)
    domain = [OPT_LABEL] + labels
    xs = alt.Scale(domain=dom, nice=False, zero=False)
    ax_x = alt.Axis(values=tx, title=xtitle, format="d")
    ax_y = alt.Axis(values=ty, title=ytitle, format="d")
    pts = alt.Chart(df).mark_point(filled=True, size=180, opacity=1, strokeWidth=0, clip=True).encode(
        x=alt.X("x:Q", scale=xs, axis=ax_x),
        y=alt.Y("y:Q", scale=xs, axis=ax_y),
        color=alt.Color("s:N", scale=alt.Scale(domain=domain, range=COLORS), legend=legend(), sort=domain),
        shape=alt.Shape("s:N", scale=alt.Scale(domain=domain, range=[LINE_PATH, DOT_PATH, DOT_PATH, DOT_PATH]),
                        legend=legend(), sort=domain),
    )
    line = alt.Chart(pd.DataFrame({"v": opt})).mark_line(color="#ff0000", opacity=0.6, strokeWidth=2, clip=True).encode(
        x=alt.X("v:Q", scale=xs, axis=ax_x),
        y=alt.Y("v:Q", scale=xs, axis=ax_y),
    )
    return alt.layer(pts, line).properties(width=PW, height=PH)


tl = panel([TL_WH1, TL_WH2, TL_WH3], WH_LABELS, [20, 60], WH_TICKS_X, WH_TICKS_Y,
           "Predicted wh-values [kW/K]", "Actual wh-values [kW/K]", OPT_WH)
tr = panel([TR_WH1, TR_WH2, TR_WH3], WH_LABELS, [20, 60], WH_TICKS_X, WH_TICKS_Y,
           "Predicted wh-values [kW/K]", "Actual wh-values [kW/K]", OPT_WH)
bl = panel([BL_UA1, BL_UA2, BL_UA3], UA_LABELS, [50, 110], UA_TICKS, UA_TICKS,
           "Predicted UA-values [kW/K]", "Actual UA-values [kW/K]", OPT_UA)
br = panel([BR_UA1, BR_UA2, BR_UA3], UA_LABELS, [50, 110], UA_TICKS, UA_TICKS,
           "Predicted UA-values [kW/K]", "Actual UA-values [kW/K]", OPT_UA)

chart = alt.concat(tl, tr, bl, br, columns=2, spacing={"row": 62, "column": 86}, bounds="flush").resolve_scale(
    color="independent", shape="independent", x="independent", y="independent"
).resolve_legend(color="independent", shape="independent").properties(
    background="white", padding={"left": 12, "top": 3, "right": 5, "bottom": 5}
).configure_view(stroke="black", strokeWidth=1).configure_axis(
    labelFont=FONT, labelFontSize=FS, labelColor="black", titleFont=FONT, titleFontSize=FS,
    titleFontWeight="normal", titleColor="black", tickColor="black", tickSize=5, tickWidth=1,
    domain=False, gridColor="#b0b0b0", gridWidth=1, gridOpacity=1, labelPadding=6,
    labelFlush=False, labelOverlap=False, labelBound=False
).configure_axisX(titlePadding=2.5).configure_axisY(titlePadding=1)

chart.save("out.html", embed_options={"renderer": "svg", "actions": False})
